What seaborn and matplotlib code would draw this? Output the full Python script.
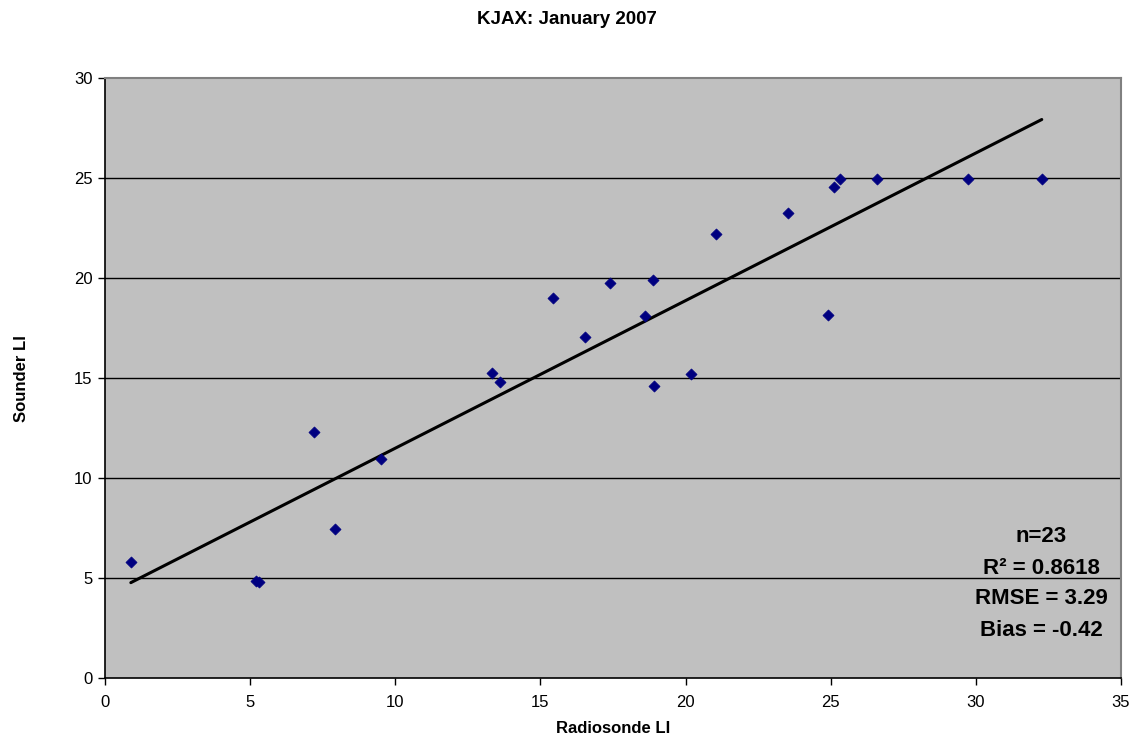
import matplotlib
matplotlib.use("Agg")
import matplotlib.pyplot as plt
import seaborn as sns
import pandas as pd

radiosonde_li = [0.89, 5.19, 5.32, 7.21, 7.93, 9.51, 13.33, 13.61, 15.44, 16.55, 17.38,
                 18.59, 18.87, 18.91, 20.20, 21.06, 23.54, 24.92, 25.12, 25.32, 26.60,
                 29.74, 32.27]
sounder_li = [5.82, 4.88, 4.82, 12.30, 7.48, 10.97, 15.28, 14.83, 19.03, 17.08, 19.78,
              18.10, 19.90, 14.63, 15.22, 22.20, 23.27, 18.18, 24.58, 24.97, 24.97,
              24.97, 24.97]
stats_lines = ["n=23", "R² = 0.8618", "RMSE = 3.29", "Bias = -0.42"]
x_ticks = [0, 5, 10, 15, 20, 25, 30, 35]
y_ticks = [0, 5, 10, 15, 20, 25, 30]

df = pd.DataFrame({"Radiosonde LI": radiosonde_li, "Sounder LI": sounder_li})

sns.set_style("ticks")
plt.rcParams['font.family'] = ['Liberation Sans', 'DejaVu Sans']
plt.rcParams['text.color'] = 'black'
plt.rcParams['axes.labelcolor'] = 'black'

fig = plt.figure(figsize=(11.34, 7.45), dpi=100)
ax = fig.add_axes([105/1134, 1 - 678.3/745, (1121 - 105)/1134, (678.3 - 78.3)/745])
ax.set_facecolor("#C0C0C0")

sns.regplot(data=df, x="Radiosonde LI", y="Sounder LI", ax=ax, scatter=False, ci=None,
            truncate=True, line_kws=dict(color="black", lw=2.2, zorder=3))
sns.scatterplot(data=df, x="Radiosonde LI", y="Sounder LI", ax=ax, marker="D", s=32,
                color="#000080", edgecolor="#000080", linewidth=0.5, zorder=4)

ax.set_xlim(0, 35)
ax.set_ylim(0, 30)
ax.set_xticks(x_ticks)
ax.set_yticks(y_ticks)
for yv in y_ticks[1:-1]:
    ax.axhline(yv, color="black", lw=1.0, zorder=1)

for s in ["top", "right"]:
    ax.spines[s].set_visible(True)
    ax.spines[s].set_color("#808080")
    ax.spines[s].set_linewidth(1.5)
for s in ["left", "bottom"]:
    ax.spines[s].set_color("black")
    ax.spines[s].set_linewidth(1.2)
ax.spines["bottom"].set_zorder(5)

ax.tick_params(axis="both", direction="out", length=5, width=1, colors="black", labelsize=12)
ax.tick_params(axis="x", pad=7)
ax.tick_params(axis="y", pad=4)

ax.set_xlabel("Radiosonde LI", fontsize=12, fontweight="bold", labelpad=8)
ax.set_ylabel("Sounder LI", fontsize=12, fontweight="bold", labelpad=32)
fig.suptitle("KJAX: January 2007", fontsize=13.5, fontweight="bold", x=0.5, y=0.985)

for i, line in enumerate(stats_lines):
    ax.text(1041, 745 - (537 + 31 * i), line, transform=None, fontsize=16, fontweight="bold",
            ha="center", va="center")

fig.savefig("out.png", dpi=100)
